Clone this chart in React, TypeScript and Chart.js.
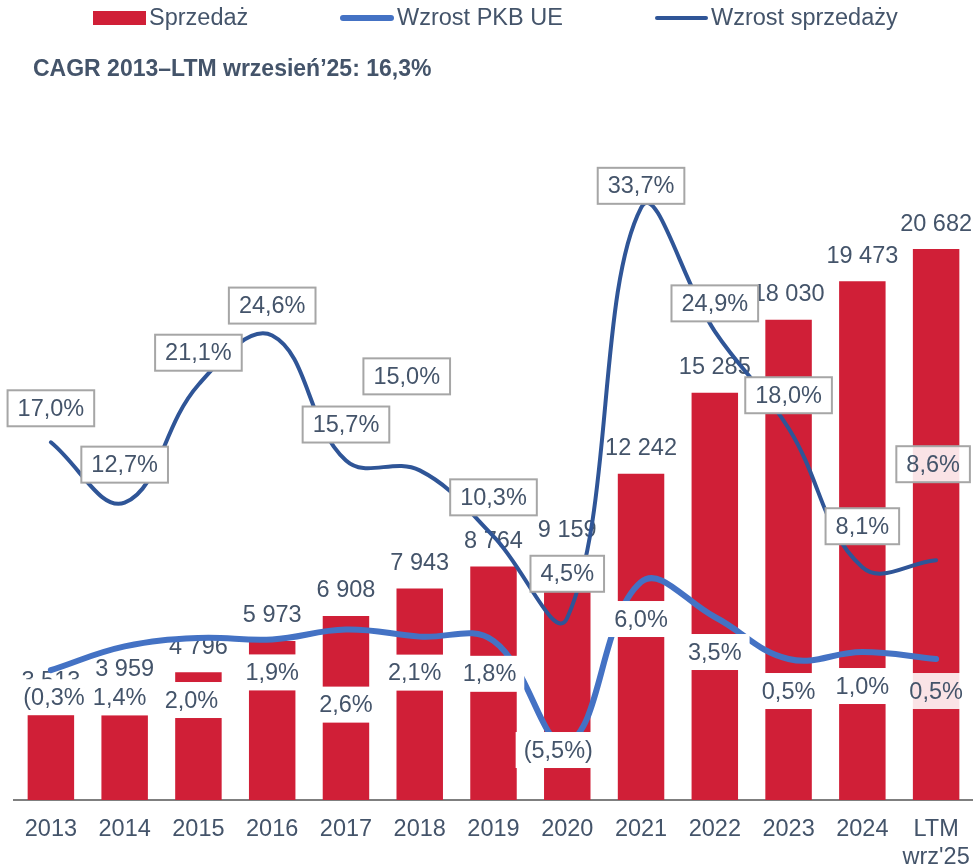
import React, { useEffect, useRef } from 'react';
import { Chart, registerables } from 'chart.js';

Chart.register(...registerables);

// ---- data ----
const categories: string[][] = [
  ['2013'], ['2014'], ['2015'], ['2016'], ['2017'], ['2018'], ['2019'],
  ['2020'], ['2021'], ['2022'], ['2023'], ['2024'], ['LTM', "wrz'25"],
];
const sales = [3513, 3959, 4796, 5973, 6908, 7943, 8764, 9159, 12242, 15285, 18030, 19473, 20682];
const gdpGrowth = [-0.3, 1.4, 2.0, 1.9, 2.6, 2.1, 1.8, -5.5, 6.0, 3.5, 0.5, 1.0, 0.5];
const salesGrowth = [17.0, 12.7, 21.1, 24.6, 15.7, 15.0, 10.3, 4.5, 33.7, 24.9, 18.0, 8.1, 8.6];
const legendLabels = ['Sprzedaż', 'Wzrost PKB UE', 'Wzrost sprzedaży'];
const subtitle = 'CAGR 2013–LTM wrzesień’25: 16,3%';

// ---- styling / label layout (pixel offsets from the point) ----
const RED = '#D01F37';
const GDP_BLUE = '#4472C4';
const SALES_BLUE = '#2F5597';
const TEXT = '#44546A';
const FAMILY = '"Liberation Sans", Arial, sans-serif';
const FONT_PX = 23.5;

const salesLabelOffset: [number, number][] = [
  [0, -34], [0, -38], [0, -32], [0, -30], [0, -36], [-13, -94], [0, -39],
  [0, -44], [0, -22], [0, -28], [0, -33], [0, -41], [-3, -96],
];
const gdpLabelOffset: [number, number][] = [
  [7, 27], [-5, 51], [-7, 62], [0, 33], [0, 75], [-5, 36], [-4, 33],
  [-9, 7], [0, 37], [0, 35], [0, 32], [0, 34], [0, 32],
];

const fmtNum = (v: number) => String(v).replace(/\B(?=(\d{3})+(?!\d))/g, ' ');
const fmtPct = (v: number) => {
  const s = Math.abs(v).toFixed(1).replace('.', ',') + '%';
  return v < 0 ? '(' + s + ')' : s;
};

const labelPlugin = {
  id: 'customLabels',
  afterDatasetDraw(chart: any, args: any) {
    if (args.index !== 0) return;
    const ctx = chart.ctx;
    ctx.save();
    ctx.font = `${FONT_PX}px ${FAMILY}`;
    ctx.fillStyle = TEXT;
    ctx.textAlign = 'center';
    ctx.textBaseline = 'middle';
    args.meta.data.forEach((bar: any, i: number) => {
      ctx.fillText(fmtNum(sales[i]), bar.x, bar.y - 25);
    });
    ctx.restore();
  },
  afterDatasetsDraw(chart: any) {
    const ctx = chart.ctx;
    const n = categories.length;
    ctx.save();
    ctx.font = `${FONT_PX}px ${FAMILY}`;
    ctx.textAlign = 'center';
    ctx.textBaseline = 'middle';
    // GDP labels: white boxes, no border
    const gdpMeta = chart.getDatasetMeta(1);
    gdpMeta.data.forEach((pt: any, i: number) => {
      const txt = fmtPct(gdpGrowth[i]);
      const cx = pt.x + gdpLabelOffset[i][0];
      const cy = pt.y + gdpLabelOffset[i][1];
      const w = ctx.measureText(txt).width + 16;
      const h = 36;
      ctx.fillStyle = i === n - 1 ? 'rgba(255,255,255,0.88)' : '#FFFFFF';
      ctx.fillRect(cx - w / 2, cy - h / 2, w, h);
      ctx.fillStyle = TEXT;
      ctx.fillText(txt, cx, cy + 1);
    });
    // Sales growth labels: boxes with gray border
    const sMeta = chart.getDatasetMeta(2);
    sMeta.data.forEach((pt: any, i: number) => {
      const txt = fmtPct(salesGrowth[i]);
      const cx = pt.x + salesLabelOffset[i][0];
      const cy = pt.y + salesLabelOffset[i][1];
      const w = ctx.measureText(txt).width + 20;
      const h = 36;
      ctx.fillStyle = i === n - 1 ? 'rgba(255,255,255,0.88)' : '#FFFFFF';
      ctx.fillRect(cx - w / 2, cy - h / 2, w, h);
      ctx.strokeStyle = '#A6A6A6';
      ctx.lineWidth = 2;
      ctx.strokeRect(cx - w / 2, cy - h / 2, w, h);
      ctx.fillStyle = TEXT;
      ctx.fillText(txt, cx, cy + 1);
    });
    ctx.restore();
  },
  afterDraw(chart: any) {
    const ctx = chart.ctx;
    ctx.save();
    ctx.font = `${FONT_PX}px ${FAMILY}`;
    ctx.textBaseline = 'middle';
    ctx.textAlign = 'left';
    const ly = 18;
    // legend item 1: bar
    ctx.fillStyle = RED;
    ctx.fillRect(93, ly - 7, 53, 14);
    ctx.fillStyle = TEXT;
    ctx.fillText(legendLabels[0], 149, ly + 1);
    // legend item 2: GDP line
    ctx.strokeStyle = GDP_BLUE;
    ctx.lineCap = 'round';
    ctx.lineWidth = 6;
    ctx.beginPath();
    ctx.moveTo(343, ly);
    ctx.lineTo(391, ly);
    ctx.stroke();
    ctx.fillText(legendLabels[1], 397, ly + 1);
    // legend item 3: sales growth line
    ctx.strokeStyle = SALES_BLUE;
    ctx.lineWidth = 4;
    ctx.beginPath();
    ctx.moveTo(657, ly);
    ctx.lineTo(706, ly);
    ctx.stroke();
    ctx.fillText(legendLabels[2], 711, ly + 1);
    // subtitle
    ctx.font = `bold 23px ${FAMILY}`;
    ctx.fillText(subtitle, 33, 70);
    ctx.restore();
  },
};

export default function App() {
  const ref = useRef<HTMLCanvasElement | null>(null);
  useEffect(() => {
    document.body.style.margin = '0';
    if (!ref.current) return;
    Chart.defaults.font.family = FAMILY;
    const chart = new Chart(ref.current, {
      type: 'bar',
      data: {
        labels: categories,
        datasets: [
          {
            type: 'bar',
            label: legendLabels[0],
            data: sales,
            backgroundColor: RED,
            borderWidth: 0,
            yAxisID: 'y',
            order: 3,
            categoryPercentage: 1,
            barPercentage: 0.63,
          } as any,
          {
            type: 'line',
            label: legendLabels[1],
            data: gdpGrowth,
            borderColor: GDP_BLUE,
            borderWidth: 6,
            borderCapStyle: 'round',
            pointRadius: 0,
            tension: 0.4,
            fill: false,
            yAxisID: 'y1',
            order: 2,
          },
          {
            type: 'line',
            label: legendLabels[2],
            data: salesGrowth,
            borderColor: SALES_BLUE,
            borderWidth: 4,
            borderCapStyle: 'round',
            pointRadius: 0,
            tension: 0.4,
            fill: false,
            yAxisID: 'y2',
            order: 1,
          },
        ],
      },
      options: {
        responsive: false,
        animation: false,
        devicePixelRatio: 1,
        layout: { padding: { top: 100, left: 14, right: 0, bottom: 0 } },
        plugins: {
          legend: { display: false },
          title: { display: false },
          tooltip: { enabled: false },
        },
        scales: {
          x: {
            offset: true,
            grid: { display: false, drawTicks: false },
            border: { display: true, color: '#7F7F7F', width: 2 },
            ticks: {
              color: TEXT,
              font: { size: FONT_PX, family: FAMILY },
              padding: 15,
              maxRotation: 0,
              autoSkip: false,
            },
            afterFit: (scale: any) => {
              scale.height = 65;
              scale.paddingLeft = 0;
              scale.paddingRight = 0;
            },
          },
          y: { display: false, min: 0, max: 26276 },
          y1: { display: false, min: -9.57, max: 40.43 },
          y2: { display: false, min: -8.48, max: 41.38 },
        },
      },
      plugins: [labelPlugin],
    } as any);
    return () => chart.destroy();
  }, []);
  return (
    <div style={{ width: 973, height: 865 }}>
      <canvas ref={ref} width={973} height={865} style={{ display: 'block' }} />
    </div>
  );
}
